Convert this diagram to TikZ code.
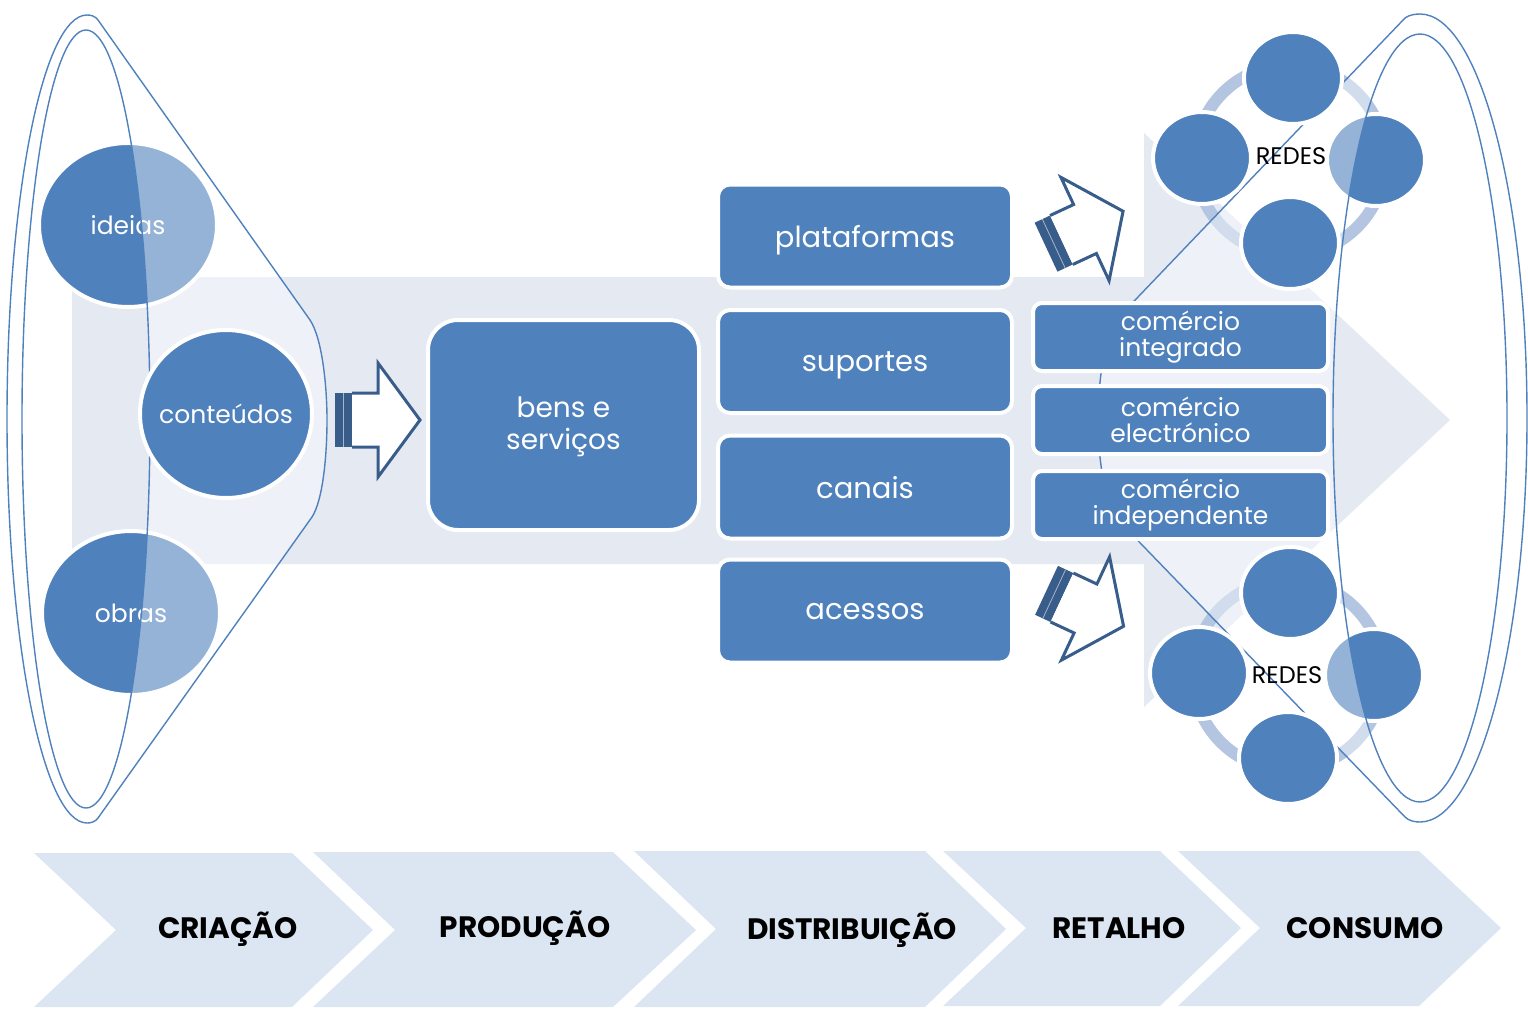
\documentclass[tikz,border=0pt]{standalone}
\usepackage{fontspec}
\setmainfont{Poppins}
\usetikzlibrary{shapes.geometric}

\definecolor{mainblue}{HTML}{4F81BD}
\definecolor{bgarrow}{HTML}{E4E9F2}
\definecolor{chev}{HTML}{DCE6F2}
\definecolor{darkline}{HTML}{385D8A}
\definecolor{ringblue}{HTML}{B3C5E0}

\tikzset{
  blockarrow/.pic={
    \fill[darkline] (-43,-27) rectangle (-26,27);
    \draw[white!55!darkline, line width=0.8pt] (-34.5,-27) -- (-34.5,27);
    \draw[darkline, line width=3pt, fill=white, line join=miter]
      (-26,-27) -- (0,-27) -- (0,-57) -- (42,0) -- (0,57) -- (0,27) -- (-26,27);
  }
}

\begin{document}
\begin{tikzpicture}[x=1pt,y=-1pt,
  blob/.style={ellipse, fill=mainblue, draw=white, line width=4pt, inner sep=-25pt,
    text=white, font=\fontsize{25}{28}\selectfont},
  netdot/.style={ellipse, fill=mainblue, draw=white, line width=4pt, inner sep=0pt,
    minimum width=98pt, minimum height=92pt},
  bigbox/.style={rectangle, rounded corners=30pt, fill=mainblue, draw=white, line width=4pt,
    minimum width=271pt, minimum height=210pt},
  bigtext/.style={text=white, align=center, font=\fontsize{28}{32}\selectfont},
  midbox/.style={rectangle, rounded corners=12pt, fill=mainblue, draw=white, line width=4pt,
    text=white, font=\fontsize{29}{32}\selectfont, text depth=0pt,
    minimum width=294pt, minimum height=103pt},
  tradebox/.style={rectangle, rounded corners=9pt, fill=mainblue, draw=white, line width=4pt,
    text=white, align=center, font=\fontsize{25}{26}\selectfont,
    minimum width=295pt, minimum height=68pt, inner sep=0pt},
  stage/.style={font=\bfseries\fontsize{29.5}{31}\selectfont, text=black},
  netlabel/.style={font=\fontsize{24}{26}\selectfont, text=black},
  funnel/.style={draw=mainblue, line width=1.4pt, fill=white, fill opacity=0.4, even odd rule},
  netring/.style={draw=ringblue, line width=12pt},
]
\useasboundingbox (0,0) rectangle (1528,1009);

% stage chevrons along the bottom
\fill[chev] (34,853) -- (292,853) -- (373,930) -- (292,1007) -- (34,1007) -- (116,930) -- cycle;
\fill[chev] (313,852) -- (613,852) -- (696,930) -- (613,1007) -- (313,1007) -- (395,930) -- cycle;
\fill[chev] (634,851) -- (925,851) -- (1006,929) -- (925,1007) -- (634,1007) -- (716,929) -- cycle;
\fill[chev] (943,851) -- (1160,851) -- (1241,928) -- (1160,1006) -- (943,1006) -- (1026,928) -- cycle;
\fill[chev] (1178,851) -- (1419,851) -- (1501,928) -- (1419,1006) -- (1178,1006) -- (1260,928) -- cycle;
\node[stage] (criacao) at (228,929) {CRIAÇÃO};
\node[stage] (producao) at (525,928) {PRODUÇÃO};
\node[stage] (distribuicao) at (852,930) {DISTRIBUIÇÃO};
\node[stage] (retalho) at (1119,928) {RETALHO};
\node[stage] (consumo) at (1365,928) {CONSUMO};

% broad background arrow
\fill[bgarrow] (72,277) -- (1144,277) -- (1144,133) -- (1450,420) -- (1144,707)
  -- (1144,564) -- (72,564) -- cycle;

% network rings
\draw[netring] (1290,160) circle[radius=95pt];
\draw[netring] (1288,675) circle[radius=95pt];

% shapes lying under the funnels
\node[blob, minimum width=178pt, minimum height=164pt] (ideias) at (128,225) {ideias};
\node[blob, minimum width=178pt, minimum height=164pt] (obras) at (131,613) {obras};
\node[netdot] (n1r) at (1376,160) {};
\node[netdot] (n2r) at (1374,675) {};

% funnels
\path[funnel] (98,20) -- (310,320) .. controls (322,338) and (327,385) .. (327,420)
  .. controls (327,455) and (323,500) .. (312,517) -- (98,818)
  .. controls (95,822) and (91,823) .. (87,823)
  .. controls (43,823) and (7,642) .. (7,419)
  .. controls (7,196) and (43,15) .. (87,15)
  .. controls (91,15) and (95,16) .. (98,20) -- cycle
  (86,419) ellipse [x radius=64pt, y radius=389pt];
\path[funnel] (1405,18) -- (1116,320) .. controls (1104,337) and (1098,385) .. (1098,420)
  .. controls (1098,455) and (1104,503) .. (1118,520) -- (1405,817)
  .. controls (1409,821) and (1415,822) .. (1420,822)
  .. controls (1479,822) and (1527,641) .. (1527,418)
  .. controls (1527,195) and (1479,14) .. (1420,14)
  .. controls (1415,14) and (1409,15) .. (1405,18) -- cycle
  (1420,418) ellipse [x radius=87pt, y radius=384pt];

% content circle
\node[blob, minimum width=172pt, minimum height=168pt] (conteudos) at (226,414) {conteúdos};

% network clusters
\node[netdot] (n1t) at (1293,78) {};
\node[netdot] (n1l) at (1202,158) {};
\node[netdot] (n1b) at (1290,243) {};
\node[netlabel] (redes1) at (1291,156) {REDES};
\node[netdot] (n2t) at (1290,593) {};
\node[netdot] (n2l) at (1199,673) {};
\node[netdot] (n2b) at (1288,758) {};
\node[netlabel] (redes2) at (1287,675) {REDES};

% goods and services
\node[bigbox] (bens) at (563.5,425) {};
\node[bigtext] (benstext) at (563.5,427) {bens e\\serviços};

% distribution column
\node[midbox] (plataformas) at (865,236) {plataformas};
\node[midbox] (suportes) at (865,361.5) {suportes};
\node[midbox] (canais) at (865,487) {canais};
\node[midbox] (acessos) at (865,611) {acessos};

% retail column
\node[tradebox] (integrado) at (1180.5,337) {comércio\\integrado};
\node[tradebox] (electronico) at (1180.5,420) {comércio\\electrónico};
\node[tradebox] (independente) at (1180.5,505) {comércio\\independente};

% block arrows
\pic at (378,420) {blockarrow};
\pic[rotate=25] at (1085,229) {blockarrow};
\pic[rotate=-25] at (1085.5,608.5) {blockarrow};
\end{tikzpicture}
\end{document}
